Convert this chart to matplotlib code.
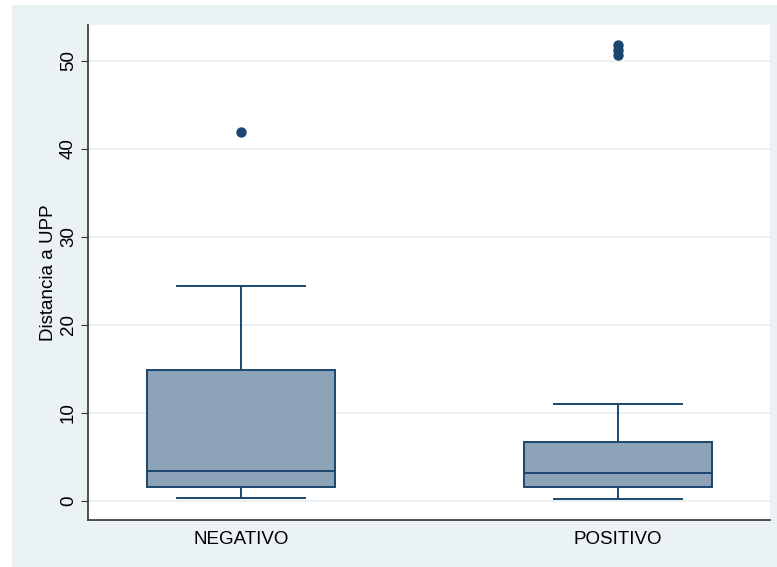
import matplotlib

matplotlib.use("Agg")

import matplotlib.pyplot as plt
from matplotlib.patches import Rectangle

plt.rcParams["font.family"] = ["Liberation Sans", "DejaVu Sans"]

# box plot summary
groups = ["NEGATIVO", "POSITIVO"]
whisker_low = [0.27, 0.23]
q1 = [1.5, 1.6]
median = [3.4, 3.1]
q3 = [14.85, 6.7]
whisker_high = [24.4, 10.95]
outliers = [[41.9], [50.7, 51.2, 51.8]]

BG = "#eaf2f3"
NAVY = "#1a476f"
FILL = "#8ca3b8"

fig = plt.figure(figsize=(7.77, 5.67), dpi=100)
fig.patches.append(Rectangle((12 / 777, 0), 1, 1 - 5 / 567, transform=fig.transFigure,
                             facecolor=BG, edgecolor="none", zorder=-10))
ax = fig.add_axes([88 / 777, 1 - 520 / 567, 682 / 777, 495 / 567])
ax.set_facecolor("white")

stats = []
for i, name in enumerate(groups):
    stats.append({
        "label": name,
        "whislo": whisker_low[i],
        "q1": q1[i],
        "med": median[i],
        "q3": q3[i],
        "whishi": whisker_high[i],
        "fliers": outliers[i],
    })

ax.bxp(
    stats,
    positions=[1, 2],
    widths=0.5,
    capwidths=0.34,
    patch_artist=True,
    boxprops=dict(facecolor=FILL, edgecolor=NAVY, linewidth=1.4),
    medianprops=dict(color=NAVY, linewidth=1.4),
    whiskerprops=dict(color=NAVY, linewidth=1.4),
    capprops=dict(color=NAVY, linewidth=1.4),
    flierprops=dict(marker="o", markerfacecolor=NAVY, markeredgecolor=NAVY, markersize=6.5),
)

ax.set_xlim(0.594, 2.403)
ax.set_ylim(-2.2, 54.06)
ax.set_yticks([0, 10, 20, 30, 40, 50])
ax.set_yticklabels(["0", "10", "20", "30", "40", "50"], rotation=90, va="center")
ax.yaxis.grid(True, color=BG, linewidth=1.5)
ax.set_axisbelow(True)
ax.tick_params(axis="y", labelsize=13.5, length=5, color="#333333", pad=3)
ax.tick_params(axis="x", labelsize=13.5, length=0, pad=8)
ax.set_ylabel("Distancia a UPP", fontsize=13.5, labelpad=2)

for side in ["top", "right"]:
    ax.spines[side].set_visible(False)
for side in ["left", "bottom"]:
    ax.spines[side].set_color("#333333")
    ax.spines[side].set_linewidth(1.2)

fig.savefig("out.png", dpi=100)
